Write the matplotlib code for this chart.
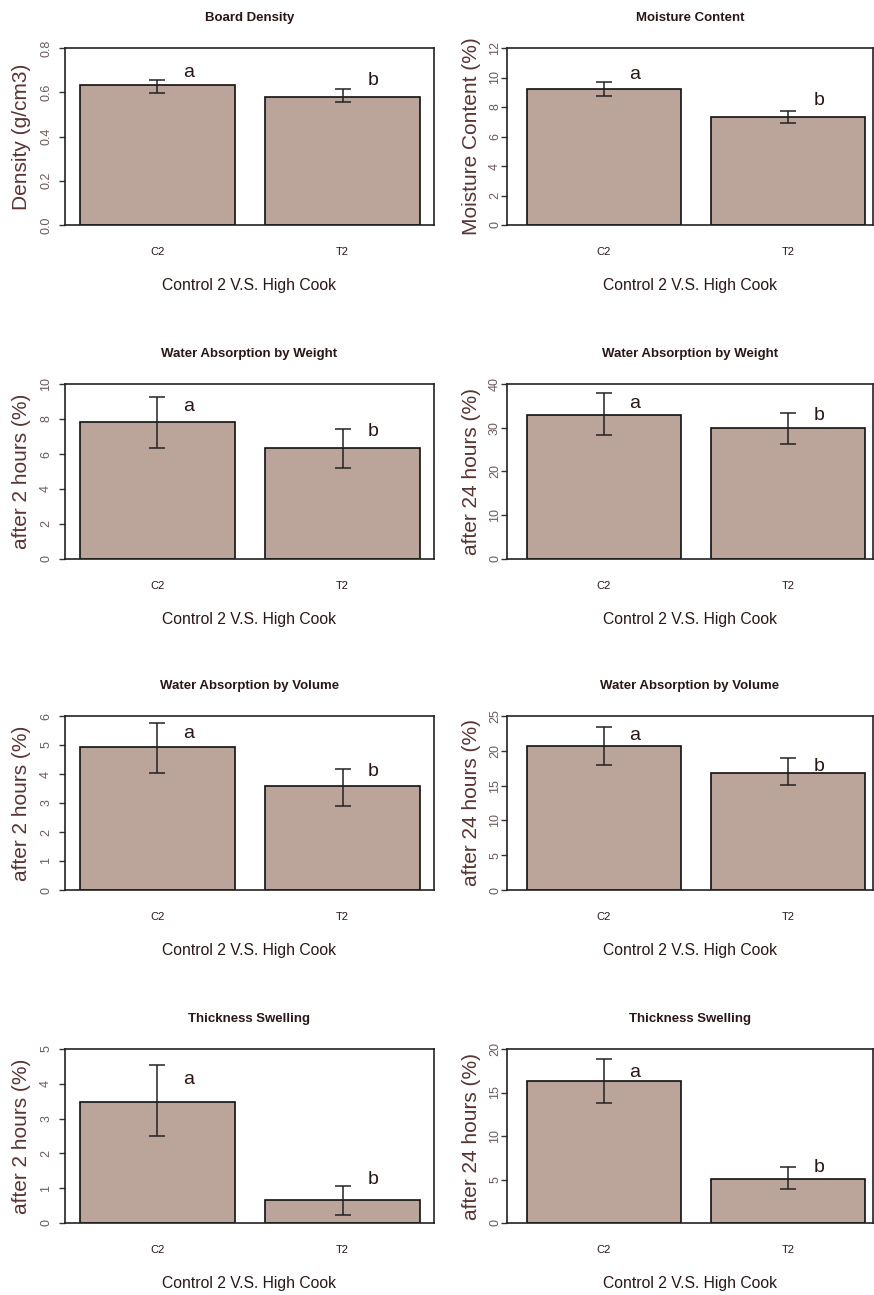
import matplotlib
matplotlib.use('Agg')
import matplotlib.pyplot as plt
import numpy as np

# values (C2 = Control 2, T2 = High Cook)
titles = ['Board Density', 'Moisture Content',
          'Water Absorption by Weight', 'Water Absorption by Weight',
          'Water Absorption by Volume', 'Water Absorption by Volume',
          'Thickness Swelling', 'Thickness Swelling']
ylabels = ['Density (g/cm3)', 'Moisture Content (%)',
           'after 2 hours (%)', 'after 24 hours (%)',
           'after 2 hours (%)', 'after 24 hours (%)',
           'after 2 hours (%)', 'after 24 hours (%)']
groups = ['C2', 'T2']
xlabel = 'Control 2 V.S. High Cook'
ymax = [0.8, 12, 10, 40, 6, 25, 5, 20]
ystep = [0.2, 2, 2, 10, 1, 5, 1, 5]

c2_mean = [0.633, 9.25, 7.85, 32.9, 4.93, 20.7, 3.49, 16.3]
c2_lo = [0.598, 8.75, 6.35, 28.3, 4.03, 18.0, 2.49, 13.8]
c2_hi = [0.656, 9.72, 9.27, 37.9, 5.77, 23.4, 4.54, 18.85]
t2_mean = [0.578, 7.30, 6.36, 30.0, 3.57, 16.8, 0.65, 5.06]
t2_lo = [0.555, 6.90, 5.20, 26.3, 2.91, 15.1, 0.22, 3.90]
t2_hi = [0.613, 7.75, 7.41, 33.4, 4.17, 18.9, 1.07, 6.44]

letters = ['a', 'b']
a_y = [0.69, 10.2, 8.7, 35.6, 5.40, 22.2, 4.13, 17.3]
b_y = [0.655, 8.47, 7.27, 32.7, 4.10, 17.8, 1.24, 6.4]

W, H = 874, 1295
fig = plt.figure(figsize=(W / 100, H / 100), dpi=100)
fig.patch.set_facecolor('white')

sans = ['Liberation Sans', 'DejaVu Sans']
bar_col = '#bba59a'
dark = '#2b1616'
brown = '#5a3333'

# pixel boxes of the axes: (left, right) per column, (top, bottom) per row
cols = [(65, 434), (507, 873)]
rows = [(48, 225), (384, 559), (716, 890), (1049, 1223)]
px_unit = [154.5, 153.5]
first_bar = [80, 527]

xpos = np.array([0.7, 1.9])

for i in range(8):
    r, c = divmod(i, 2)
    x0, x1 = cols[c]
    y0, y1 = rows[r]
    ax = fig.add_axes([x0 / W, 1 - y1 / H, (x1 - x0) / W, (y1 - y0) / H])
    xl = 0.2 - (first_bar[c] - x0) / px_unit[c]
    ax.set_xlim(xl, xl + (x1 - x0) / px_unit[c])
    ax.set_ylim(0, ymax[i])

    means = [c2_mean[i], t2_mean[i]]
    lo = [c2_mean[i] - c2_lo[i], t2_mean[i] - t2_lo[i]]
    hi = [c2_hi[i] - c2_mean[i], t2_hi[i] - t2_mean[i]]
    ax.bar(xpos, means, width=1.0, color=bar_col, edgecolor='#111111', linewidth=1.2)
    ax.errorbar(xpos, means, yerr=[lo, hi], fmt='none', ecolor='#222222',
                elinewidth=1.1, capsize=6, capthick=1.1)

    for xp, yv, let in zip(xpos, [a_y[i], b_y[i]], letters):
        ax.text(xp + 0.2, yv, let, ha='center', va='center', fontsize=14,
                family=sans, color=dark)

    ticks = np.arange(0, ymax[i] + ystep[i] / 2, ystep[i])
    ax.set_yticks(ticks)
    if ystep[i] < 1:
        ax.set_yticklabels(['%.1f' % t for t in ticks])
    else:
        ax.set_yticklabels(['%d' % t for t in ticks])
    ax.tick_params(axis='y', direction='out', length=4.3, width=1, color='#333333',
                   labelsize=9, labelcolor='#6e5858', pad=(5 if c == 0 else 0))
    for lab in ax.get_yticklabels():
        lab.set_rotation(90)
        lab.set_va('center')
        lab.set_family(sans)

    ax.set_xticks(xpos)
    ax.set_xticklabels(groups, family=sans, fontsize=8, color=dark)
    ax.tick_params(axis='x', length=0, pad=16)

    for sp in ax.spines.values():
        sp.set_linewidth(1.2)
        sp.set_color('#222222')

    ax.set_ylabel(ylabels[i], family=sans, fontsize=15, color=brown)
    ax.yaxis.set_label_coords(-(34 if c == 0 else 26) / (x1 - x0), 0.5)
    ax.set_xlabel(xlabel, family=sans, fontsize=11.3, color=dark, labelpad=15)
    ax.set_title(titles[i], family=sans, fontsize=9.5, fontweight='bold',
                 color=dark, pad=19.5)

fig.savefig('out.png', dpi=100)
